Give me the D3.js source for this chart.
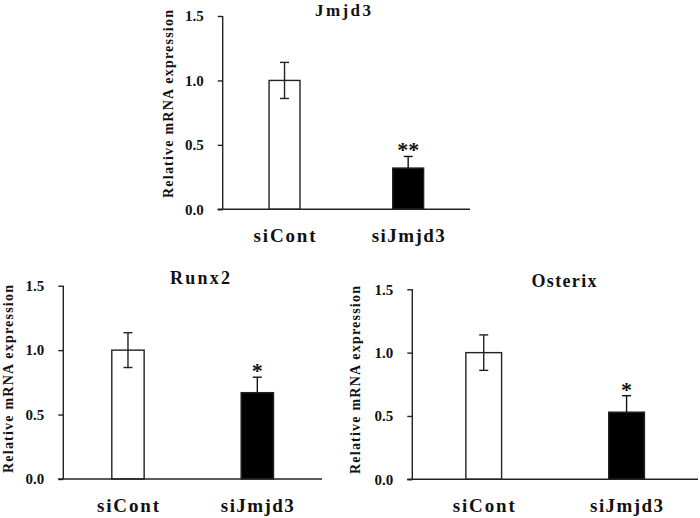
<!DOCTYPE html>
<html>
<head>
<meta charset="utf-8">
<script src="https://cdn.jsdelivr.net/npm/d3@7"></script>
<style>
  html, body { margin: 0; padding: 0; background: #fff; }
  svg { display: block; }
  svg text { font-family: "Liberation Serif", "DejaVu Serif", serif !important; font-weight: bold; fill: #111; }
</style>
</head>
<body>
<svg id="chart" width="700" height="518"></svg>
<script>
// ---- data ----
const categories = ["siCont", "siJmjd3"];
const panelTitles = ["Jmjd3", "Runx2", "Osterix"];
const jmjd3Values = [1.0, 0.32];
const jmjd3Errors = [0.14, 0.09];
const runx2Values = [1.0, 0.67];
const runx2Errors = [0.135, 0.12];
const osterixValues = [1.0, 0.53];
const osterixErrors = [0.14, 0.13];
const significance = [["", "**"], ["", "*"], ["", "*"]];
const yTicks = [0, 0.5, 1.0, 1.5];
const yLabel = "Relative mRNA expression";

// ---- layout per panel ----
const panels = [
  { title: panelTitles[0], values: jmjd3Values, errors: jmjd3Errors, sig: significance[0],
    x0: 222.7, x1: 470, y0: 209.3, y1: 16, titleX: 343, titleY: 15.5, titleW: 56, titleSize: 17,
    labelX: 173.3, labelY: 104, catY: 241.5 },
  { title: panelTitles[1], values: runx2Values, errors: runx2Errors, sig: significance[1],
    x0: 63.3, x1: 322, y0: 479, y1: 285.7, titleX: 200, titleY: 283.5, titleW: 60, titleSize: 18,
    labelX: 13.3, labelY: 379, catY: 511.5 },
  { title: panelTitles[2], values: osterixValues, errors: osterixErrors, sig: significance[2],
    x0: 412.3, x1: 698, y0: 479.3, y1: 289.3, titleX: 564, titleY: 287, titleW: 65, titleSize: 18,
    labelX: 360, labelY: 380, catY: 512 }
];

const FONT = "Liberation Serif";
const svg = d3.select("#chart");
const ink = "#222";

function txt(sel) {
  return sel.attr("font-family", FONT).attr("font-weight", "bold").attr("fill", "#111");
}

panels.forEach(p => {
  const g = svg.append("g");
  const x = d3.scaleBand().domain(categories).range([p.x0, p.x1])
    .paddingInner(0.75).paddingOuter(0.375);
  const y = d3.scaleLinear().domain([0, 1.5]).range([p.y0, p.y1]);

  // bars
  g.selectAll("rect.bar").data(categories).join("rect")
    .attr("class", "bar")
    .attr("x", d => x(d))
    .attr("width", x.bandwidth())
    .attr("y", (d, i) => y(p.values[i]))
    .attr("height", (d, i) => y(0) - y(p.values[i]))
    .attr("fill", (d, i) => i === 0 ? "#fff" : "#000")
    .attr("stroke", ink)
    .attr("stroke-width", 1.4);

  // error bars
  const cap = 4.5;
  categories.forEach((c, i) => {
    const cx = x(c) + x.bandwidth() / 2;
    const top = y(p.values[i] + p.errors[i]);
    const bot = y(p.values[i] - p.errors[i]);
    const eg = g.append("g").attr("stroke", i === 0 ? ink : "#111").attr("stroke-width", 1.4);
    if (i === 0) {
      eg.append("line").attr("x1", cx).attr("x2", cx).attr("y1", top).attr("y2", bot);
      eg.append("line").attr("x1", cx - cap).attr("x2", cx + cap).attr("y1", bot).attr("y2", bot);
    } else {
      eg.append("line").attr("x1", cx).attr("x2", cx).attr("y1", top).attr("y2", y(p.values[i]));
    }
    eg.append("line").attr("x1", cx - cap).attr("x2", cx + cap).attr("y1", top).attr("y2", top);
    if (p.sig[i]) {
      txt(g.append("text")).attr("x", cx).attr("y", top + 1)
        .attr("text-anchor", "middle").attr("font-size", 22).text(p.sig[i]);
    }
  });

  // y axis
  const yAxis = d3.axisLeft(y).tickValues(yTicks).tickFormat(d3.format(".1f"))
    .tickSize(5).tickPadding(14);
  const ya = g.append("g").attr("transform", `translate(${p.x0},0)`).call(yAxis)
    .attr("font-family", FONT);
  ya.select(".domain").attr("d", `M0,${p.y1}V${p.y0}`).attr("stroke", ink).attr("stroke-width", 1.4);
  ya.selectAll(".tick line").attr("stroke", ink).attr("stroke-width", 1.4);
  txt(ya.selectAll(".tick text")).attr("font-size", 15);

  // x axis
  const xAxis = d3.axisBottom(x).tickSize(0).tickPadding(0);
  const xa = g.append("g").attr("transform", `translate(0,${p.y0})`).call(xAxis);
  xa.select(".domain").attr("d", `M${p.x0 - 5},0H${p.x1}`).attr("stroke", ink).attr("stroke-width", 1.4);
  xa.selectAll(".tick text").remove();

  // category labels
  const catW = { "siCont": 62, "siJmjd3": 73 };
  categories.forEach(c => {
    txt(g.append("text"))
      .attr("x", x(c) + x.bandwidth() / 2)
      .attr("y", p.catY)
      .attr("text-anchor", "middle")
      .attr("font-size", 19)
      .attr("textLength", catW[c])
      .attr("lengthAdjust", "spacing")
      .text(c);
  });

  // title
  txt(g.append("text")).attr("x", p.titleX).attr("y", p.titleY)
    .attr("text-anchor", "middle").attr("font-size", p.titleSize)
    .attr("textLength", p.titleW).attr("lengthAdjust", "spacing")
    .text(p.title);

  // y label
  txt(g.append("text"))
    .attr("transform", `translate(${p.labelX},${p.labelY}) rotate(-90)`)
    .attr("text-anchor", "middle").attr("font-size", 14)
    .attr("textLength", 188).attr("lengthAdjust", "spacing")
    .text(yLabel);
});
</script>
</body>
</html>
